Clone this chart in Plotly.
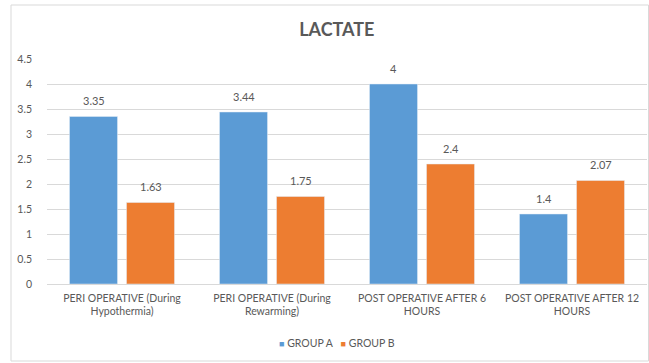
import plotly.graph_objects as go

categories = ["PERI OPERATIVE (During<br>Hypothermia)", "PERI OPERATIVE (During<br>Rewarming)",
              "POST OPERATIVE AFTER 6<br>HOURS", "POST OPERATIVE AFTER 12<br>HOURS"]
group_a = [3.35, 3.44, 4, 1.4]
group_b = [1.63, 1.75, 2.4, 2.07]
labels_a = ["3.35", "3.44", "4", "1.4"]
labels_b = ["1.63", "1.75", "2.4", "2.07"]
yticks = [0, 0.5, 1, 1.5, 2, 2.5, 3, 3.5, 4, 4.5]
ytick_text = ["0", "0.5", "1", "1.5", "2", "2.5", "3", "3.5", "4", "4.5"]
series_names = ["GROUP A", "GROUP B"]
colors = ["#5B9BD5", "#ED7D31"]

FONT = "Lato"
GRAY = "#595959"

fig = go.Figure()
for name, vals, col in zip(series_names, [group_a, group_b], colors):
    fig.add_trace(go.Bar(x=categories, y=vals, name=name, marker_color=col,
                         showlegend=False))

annotations = []
for vals, labs, shift in [(group_a, labels_a, -1), (group_b, labels_b, 1)]:
    for c, v, t in zip(categories, vals, labs):
        annotations.append(dict(x=c, y=v, xref="x", yref="y", text=t, showarrow=False,
                                xshift=shift * 28.5, yshift=16, yanchor="middle",
                                font=dict(size=11, color=GRAY, family=FONT)))

# legend as text
legend_text = "   ".join(
    f"<span style='color:{c}; font-size:9px'>■</span> {n}" for n, c in zip(series_names, colors))
annotations.append(dict(x=(337 - 47) / 600, y=(284 - 343) / 225, xref="paper", yref="paper",
                        text=legend_text, showarrow=False, xanchor="center", yanchor="middle",
                        font=dict(size=10.5, color=GRAY, family=FONT)))

fig.update_layout(
    width=649, height=363,
    margin=dict(l=47, r=2, t=59, b=79),
    paper_bgcolor="white", plot_bgcolor="white",
    barmode="group", bargap=0.24, bargroupgap=0.158,
    font=dict(family=FONT, size=10, color=GRAY),
    title=dict(text="<b>LACTATE</b>", x=0.519, xanchor="center", xref="container",
               y=1 - 30 / 363, yanchor="middle", yref="container",
               font=dict(size=18, color=GRAY, family=FONT)),
    showlegend=False,
    xaxis=dict(showgrid=False, showline=True, linecolor="#d9d9d9", linewidth=1,
               ticks="", ticklabelstandoff=4,
               tickfont=dict(size=10.5, color=GRAY, family=FONT)),
    yaxis=dict(range=[0, 4.5], tickvals=yticks, ticktext=ytick_text,
               showgrid=True, gridcolor="#d9d9d9", gridwidth=1, zeroline=False,
               showline=False, ticks="", ticklabelstandoff=14,
               tickfont=dict(size=10.5, color=GRAY, family=FONT)),
    annotations=annotations,
    shapes=[dict(type="rect", xref="paper", yref="paper",
                 x0=(11 - 47) / 600, x1=(648.5 - 47) / 600,
                 y0=(284 - 361) / 225, y1=(284 - 5) / 225,
                 line=dict(color="#d9d9d9", width=1), fillcolor="rgba(0,0,0,0)", layer="below")],
)

fig.write_html("out.html")
